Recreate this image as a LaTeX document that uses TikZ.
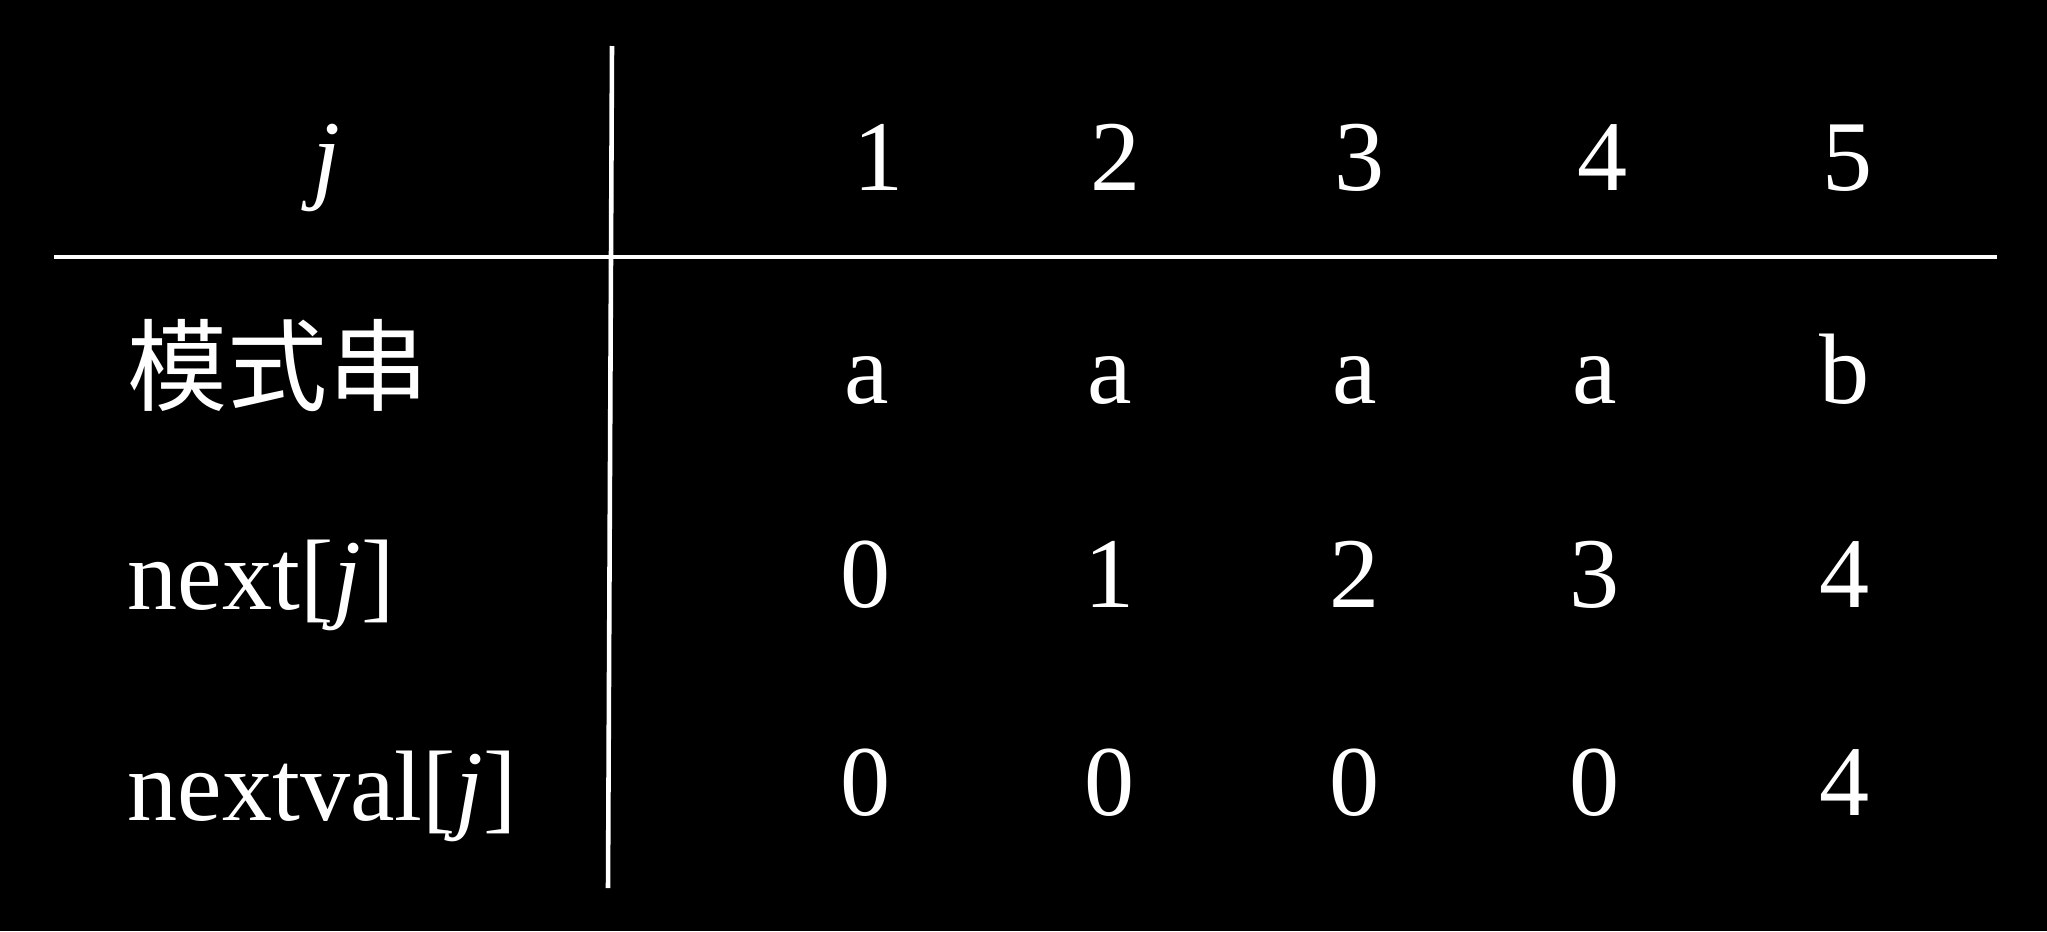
\documentclass[tikz,border=0pt]{standalone}
\usepackage{fontspec}
\setmainfont{Liberation Serif}
\newfontfamily\cjk{Noto Sans CJK SC}
\usepackage{tikz}

\begin{document}
\begin{tikzpicture}[
    txt/.style={text=white,anchor=base,inner sep=0pt,font=\fontsize{28.5}{34}\selectfont},
    lbl/.style={txt,anchor=base west},
    rule/.style={draw=white,line width=1.3pt}]
    \fill[black] (0,0) rectangle (20.47,9.31);
    \useasboundingbox (0,0) rectangle (20.47,9.31);
    \coordinate (vtop) at (6.12,8.85);
    \coordinate (vbot) at (6.08,0.43);
    \coordinate (hleft) at (0.54,6.74);
    \coordinate (hright) at (19.97,6.74);
    \draw[rule] (vtop) -- (vbot);
    \draw[rule] (hleft) -- (hright);
    \node[txt] (j) at (3.26,7.41) {\textit{j}};
    \node[lbl] (pat) at (1.27,5.28) {\cjk 模式串};
    \node[lbl] (nxt) at (1.27,3.22) {next[\textit{j}]};
    \node[lbl] (nval) at (1.27,1.11) {nextval[\textit{j}]};
    \node[txt] (j1) at (8.79,7.41) {1};
    \node[txt] (j2) at (11.16,7.41) {2};
    \node[txt] (j3) at (13.60,7.41) {3};
    \node[txt] (j4) at (16.03,7.41) {4};
    \node[txt] (j5) at (18.48,7.41) {5};
    \node[txt] (p1) at (8.67,5.28) {a};
    \node[txt] (p2) at (11.10,5.28) {a};
    \node[txt] (p3) at (13.55,5.28) {a};
    \node[txt] (p4) at (15.95,5.28) {a};
    \node[txt] (p5) at (18.45,5.28) {b};
    \node[txt] (n1) at (8.66,3.24) {0};
    \node[txt] (n2) at (11.10,3.24) {1};
    \node[txt] (n3) at (13.55,3.24) {2};
    \node[txt] (n4) at (15.95,3.24) {3};
    \node[txt] (n5) at (18.45,3.24) {4};
    \node[txt] (v1) at (8.66,1.16) {0};
    \node[txt] (v2) at (11.10,1.16) {0};
    \node[txt] (v3) at (13.55,1.16) {0};
    \node[txt] (v4) at (15.95,1.16) {0};
    \node[txt] (v5) at (18.45,1.16) {4};
\end{tikzpicture}
\end{document}
